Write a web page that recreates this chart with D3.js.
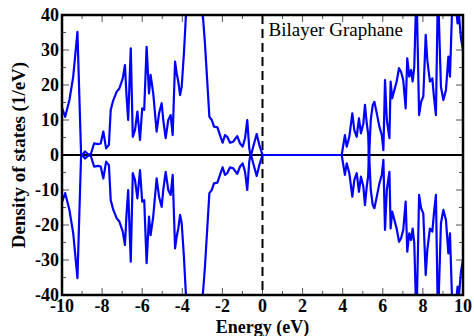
<!DOCTYPE html>
<html>
<head>
<meta charset="utf-8">
<script src="https://cdn.jsdelivr.net/npm/d3@7"></script>
<style>
  html, body { margin: 0; padding: 0; background: #fff; }
  svg { display: block; font-family: 'Liberation Serif', 'Times New Roman', serif; }
</style>
</head>
<body>
<svg id="chart" width="474" height="336"></svg>
<script>
// Energy grid (eV)
const energy = [
  -10, -9.84, -9.63, -9.44, -9.23, -9.11, -9.05, -8.85, -8.55, -8.4,
  -8.2, -8.07, -7.94, -7.8, -7.66, -7.57, -7.44, -7.27, -7.14, -6.97,
  -6.86, -6.78, -6.7, -6.57, -6.47, -6.36, -6.24, -6.11, -6.0, -5.9,
  -5.78, -5.66, -5.58, -5.45, -5.28, -5.16, -5.03, -4.95, -4.83, -4.7,
  -4.58, -4.48, -4.36, -4.28, -4.2, -4.11, -4.03, -3.92, -3.8, -3.6,
  -3.3, -3.05, -2.95, -2.87, -2.75, -2.65, -2.53, -2.42, -2.25, -2.12,
  -1.99, -1.87, -1.76, -1.62, -1.46, -1.26, -1.12, -0.99, -0.87, -0.76,
  -0.66, -0.59, -0.46, -0.29, -0.16, 0, 3.95, 4.11, 4.2, 4.33,
  4.48, 4.58, 4.7, 4.81, 4.91, 5.03, 5.11, 5.2, 5.27, 5.31,
  5.4, 5.5, 5.58, 5.7, 5.83, 5.95, 6.03, 6.11, 6.2, 6.33,
  6.39, 6.47, 6.58, 6.69, 6.81, 6.91, 7.02, 7.14, 7.22, 7.32,
  7.41, 7.49, 7.57, 7.68, 7.81, 7.91, 8.02, 8.14, 8.22, 8.35,
  8.47, 8.55, 8.65, 8.75, 8.9, 9.02, 9.15, 9.27, 9.35, 9.48,
  9.6, 9.73, 9.8, 9.9, 10
];

// spin up DOS (1/eV)
const dosUp = [
  13.5, 10.9, 15.7, 22.4, 35.2, 12, 0.5, -1.0, 0.5, 3.3,
  3.1, 3.3, 6.7, 1.9, 2.9, 12.9, 15.7, 18.1, 19, 21.9,
  25.7, 16.7, 10, 30.5, 5.2, 7.1, 12.4, 4.3, 13.3, 12.9,
  30.9, 17.6, 22.9, 17.6, 6.7, 11.9, 14.8, 10, 4.8, 10,
  11.4, 5.7, 26.7, 23.3, 21, 17.1, 19.5, 29, 42, 55,
  58, 45, 38, 31.9, 20.5, 10.9, 10, 8.1, 7.9, 5.7,
  3.5, 5.7, 5.2, 3.5, 3.8, 5.4, 3.3, 2.4, 4.8, 10,
  1.9, -0.5, 2.4, 6, 2.9, 0, 0, 5.7, 2.4, 5.2,
  11.9, 7.1, 5.2, 10.5, 6.2, 9, 14.3, 9, 6, -1.5,
  10, 14.3, 15.2, 11.9, 8.1, 5.7, 1.4, 21.4, 10, 4.8,
  21, 16.2, 18.6, 21, 24.8, 23.8, 21.4, 13.3, 27.6, 22.4,
  24.3, 21, 25.2, 48, 11.4, 15.2, 16.7, 34.3, 27.1, 21,
  21.9, 16.7, 11.4, 48, 19.5, 15.7, 18.6, 28.1, 22.4, 46,
  45, 37.6, 40, 33.3, 30
];

// spin down DOS (1/eV), plotted negative
const dosDown = [
  -13.5, -10.9, -15.7, -22.4, -35.2, -12, -0.5, 1.0, -0.5, -3.3,
  -3.1, -3.3, -6.7, -1.9, -2.9, -12.9, -15.7, -18.1, -19, -21.9,
  -25.7, -16.7, -10, -30.5, -5.2, -7.1, -12.4, -4.3, -13.3, -12.9,
  -30.9, -17.6, -22.9, -17.6, -6.7, -11.9, -14.8, -10, -4.8, -10,
  -11.4, -5.7, -26.7, -23.3, -21, -17.1, -19.5, -29, -42, -55,
  -58, -45, -38, -31.9, -20.5, -10.9, -10, -8.1, -7.9, -5.7,
  -3.5, -5.7, -5.2, -3.5, -3.8, -5.4, -3.3, -2.4, -4.8, -10,
  -1.9, 0.5, -2.4, -6, -2.9, 0, 0, -5.7, -2.4, -5.2,
  -11.9, -7.1, -5.2, -10.5, -6.2, -9, -14.3, -9, -6, 1.5,
  -10, -14.3, -15.2, -11.9, -8.1, -5.7, -1.4, -21.4, -10, -4.8,
  -21, -16.2, -18.6, -21, -24.8, -23.8, -21.4, -13.3, -27.6, -22.4,
  -24.3, -21, -25.2, -48, -11.4, -15.2, -16.7, -34.3, -27.1, -21,
  -21.9, -16.7, -11.4, -48, -19.5, -15.7, -18.6, -28.1, -22.4, -46,
  -45, -37.6, -40, -33.3, -30
];

const xTicks = [-10, -8, -6, -4, -2, 0, 2, 4, 6, 8, 10];
const yTicks = [-40, -30, -20, -10, 0, 10, 20, 30, 40];

const svg = d3.select('#chart');
const margin = { top: 15, right: 11, bottom: 41, left: 62 };
const width = 474 - margin.left - margin.right;
const height = 336 - margin.top - margin.bottom;

const g = svg.append('g')
  .attr('transform', `translate(${margin.left},${margin.top})`);

const x = d3.scaleLinear().domain([-10, 10]).range([0, width]);
const y = d3.scaleLinear().domain([-40, 40]).range([height, 0]);

svg.append('defs').append('clipPath')
  .attr('id', 'plot-clip')
  .append('rect')
  .attr('width', width)
  .attr('height', height);

// ticks, inside, on all four sides
const tickColor = '#555';
const xMinor = d3.range(-9, 10, 2);
const yMinor = d3.range(-35, 40, 10);

function drawTicks(vals, len) {
  vals.forEach(v => {
    g.append('line').attr('x1', x(v)).attr('x2', x(v)).attr('y1', height).attr('y2', height - len)
      .attr('stroke', tickColor).attr('stroke-width', 1);
    g.append('line').attr('x1', x(v)).attr('x2', x(v)).attr('y1', 0).attr('y2', len)
      .attr('stroke', tickColor).attr('stroke-width', 1);
  });
}
function drawYTicks(vals, len) {
  vals.forEach(v => {
    g.append('line').attr('x1', 0).attr('x2', len).attr('y1', y(v)).attr('y2', y(v))
      .attr('stroke', tickColor).attr('stroke-width', 1);
    g.append('line').attr('x1', width).attr('x2', width - len).attr('y1', y(v)).attr('y2', y(v))
      .attr('stroke', tickColor).attr('stroke-width', 1);
  });
}
drawTicks(xTicks, 7);
drawTicks(xMinor, 4);
drawYTicks(yTicks, 7);
drawYTicks(yMinor, 4);

// tick labels
g.selectAll('.xlab')
  .data(xTicks)
  .enter()
  .append('text')
  .attr('x', d => x(d))
  .attr('y', height + 17)
  .attr('text-anchor', 'middle')
  .style('font-size', '18px')
  .style('font-weight', 'bold')
  .text(d => d);

g.selectAll('.ylab')
  .data(yTicks)
  .enter()
  .append('text')
  .attr('x', -3)
  .attr('y', d => y(d))
  .attr('dy', '0.35em')
  .attr('text-anchor', 'end')
  .style('font-size', '18px')
  .style('font-weight', 'bold')
  .text(d => d);

// zero line
g.append('line')
  .attr('x1', 0).attr('x2', width)
  .attr('y1', y(0)).attr('y2', y(0))
  .attr('stroke', 'black')
  .attr('stroke-width', 2);

// Fermi level
g.append('line')
  .attr('x1', x(0)).attr('x2', x(0))
  .attr('y1', 0).attr('y2', height)
  .attr('stroke', 'black')
  .attr('stroke-width', 2)
  .attr('stroke-dasharray', '9,5');

const line = d3.line()
  .x(d => x(d[0]))
  .y(d => y(d[1]));

const plot = g.append('g').attr('clip-path', 'url(#plot-clip)');
[dosUp, dosDown].forEach(series => {
  plot.append('path')
    .datum(energy.map((e, i) => [e, series[i]]))
    .attr('fill', 'none')
    .attr('stroke', '#0000ff')
    .attr('stroke-width', 2.2)
    .attr('stroke-linejoin', 'round')
    .attr('d', line);
});

// frame
g.append('rect')
  .attr('width', width)
  .attr('height', height)
  .attr('fill', 'none')
  .attr('stroke', 'black')
  .attr('stroke-width', 2.5);

g.append('text')
  .attr('x', x(0) + 6)
  .attr('y', 21)
  .style('font-size', '19px')
  .text('Bilayer Graphane');

svg.append('text')
  .attr('x', margin.left + width / 2)
  .attr('y', 333)
  .attr('text-anchor', 'middle')
  .style('font-size', '18px')
  .style('font-weight', 'bold')
  .text('Energy (eV)');

svg.append('text')
  .attr('transform', `translate(25,${margin.top + height / 2}) rotate(-90)`)
  .attr('text-anchor', 'middle')
  .style('font-size', '19px')
  .style('font-weight', 'bold')
  .text('Density of states (1/eV)');
</script>
</body>
</html>
